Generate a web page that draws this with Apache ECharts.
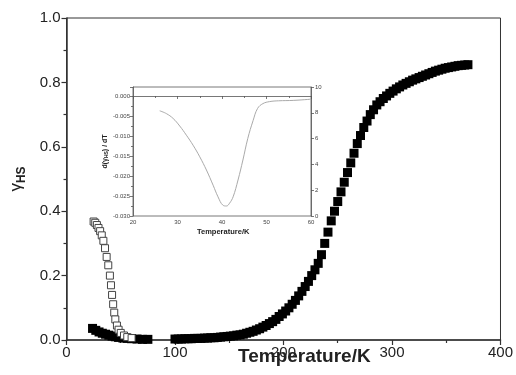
<!DOCTYPE html>
<html>
<head>
<meta charset="utf-8">
<script src="https://cdn.jsdelivr.net/npm/echarts@6/dist/echarts.min.js"></script>
<style>
  html, body { margin: 0; padding: 0; background: #fff; }
  #chart { width: 516px; height: 375px; }
</style>
</head>
<body>
<div id="chart"></div>
<script>
// main plot: filled squares (heating)
const heatT = [24, 27, 30, 33, 36, 39, 42, 45, 48, 52, 56, 60, 65, 70, 75,
  100, 103, 106, 109, 112, 115, 118, 121, 124, 127, 130, 133, 136, 139, 142, 145, 148, 151, 154, 157, 160,
  163, 166, 169, 172, 175, 178, 181, 184, 187, 190, 193, 196, 199, 202, 205, 208, 211, 214, 217, 220,
  223, 226, 229, 232, 235, 238, 241, 244, 247, 250, 253, 256, 259, 262, 265, 268, 271, 274, 277, 280,
  283, 286, 289, 292, 295, 298, 301, 304, 307, 310, 313, 316, 319, 322, 325, 328, 331, 334, 337, 340,
  343, 346, 349, 352, 355, 358, 361, 364, 367, 370];
const heatG = [0.036, 0.030, 0.025, 0.021, 0.018, 0.015, 0.012, 0.010, 0.008, 0.006, 0.005, 0.004, 0.003, 0.002, 0.002,
  0.003, 0.003, 0.003, 0.004, 0.004, 0.004, 0.005, 0.005, 0.005, 0.006, 0.006, 0.007, 0.007, 0.008, 0.009, 0.010, 0.011, 0.012, 0.013, 0.015, 0.016,
  0.018, 0.021, 0.024, 0.027, 0.031, 0.035, 0.040, 0.045, 0.051, 0.057, 0.064, 0.073, 0.081, 0.090, 0.100, 0.111, 0.123, 0.137, 0.151, 0.166,
  0.182, 0.200, 0.218, 0.238, 0.265, 0.300, 0.335, 0.370, 0.400, 0.430, 0.460, 0.490, 0.520, 0.550, 0.580, 0.610, 0.635, 0.660, 0.680, 0.700,
  0.715, 0.730, 0.740, 0.750, 0.758, 0.766, 0.773, 0.780, 0.786, 0.792, 0.797, 0.802, 0.807, 0.811, 0.815, 0.819, 0.823, 0.827, 0.831, 0.835,
  0.838, 0.841, 0.844, 0.846, 0.848, 0.850, 0.852, 0.853, 0.854, 0.855];

// main plot: open squares
const openT = [25, 26.5, 28, 29.5, 31, 32.5, 34, 35.5, 37, 38.5, 40, 41, 42, 43, 44, 45, 46.5, 48, 50, 53, 56, 60];
const openG = [0.368, 0.364, 0.357, 0.348, 0.338, 0.325, 0.308, 0.285, 0.258, 0.232, 0.200, 0.170, 0.140, 0.111,
  0.085, 0.064, 0.045, 0.032, 0.022, 0.014, 0.009, 0.006];

// inset: d(gamma)/dT
const insetT = [26, 27.5, 29, 30.5, 32, 33.5, 35, 36.5, 38, 39.1, 40.2, 41, 41.7, 42.5, 43.6, 44.7, 45.8, 47, 48, 49.2, 50.7, 52.7, 56, 60];
const insetD = [-0.0037, -0.0044, -0.0056, -0.0075, -0.0098, -0.0123, -0.0152, -0.0185, -0.0223, -0.0252, -0.0273, -0.0275,
  -0.0268, -0.0252, -0.0210, -0.0160, -0.0106, -0.0061, -0.0031, -0.0019, -0.0014, -0.0012, -0.0011, -0.0008];

const axisColor = '#333';
const textColor = '#222';
const font = 'Liberation Sans, Arial';

const pairs = (xs, ys) => xs.map((x, i) => [x, ys[i]]);

const chart = echarts.init(document.getElementById('chart'));

const option = {
  animation: false,
  backgroundColor: '#fff',
  grid: [
    { left: 63, top: 18, right: 13, bottom: 35, show: true, borderColor: axisColor, borderWidth: 1 },
    { left: 133, top: 87, width: 178, height: 129, show: true, borderColor: '#555', borderWidth: 0.8, backgroundColor: '#fff' }
  ],
  xAxis: [
    {
      gridIndex: 0, type: 'value', min: 0, max: 400, interval: 100,
      splitLine: { show: false },
      axisLine: { lineStyle: { color: axisColor, width: 1.5 } },
      axisTick: { length: 5, lineStyle: { color: axisColor, width: 1.2 } },
      minorTick: { show: true, splitNumber: 2, length: 3, lineStyle: { color: axisColor, width: 1.2 } },
      axisLabel: { color: textColor, fontSize: 15, fontFamily: font, margin: 5 }
    },
    {
      gridIndex: 1, type: 'value', min: 20, max: 60, interval: 10,
      splitLine: { show: false },
      axisLine: { lineStyle: { color: '#555', width: 0.8 } },
      axisTick: { length: 3, lineStyle: { color: '#555', width: 0.8 } },
      minorTick: { show: true, splitNumber: 2, length: 2, lineStyle: { color: '#555', width: 0.8 } },
      axisLabel: { color: '#444', fontSize: 6, fontFamily: font, margin: 3 }
    }
  ],
  yAxis: [
    {
      gridIndex: 0, type: 'value', min: 0, max: 1, interval: 0.2,
      splitLine: { show: false },
      axisLine: { lineStyle: { color: axisColor, width: 1.5 } },
      axisTick: { length: 5, lineStyle: { color: axisColor, width: 1.2 } },
      minorTick: { show: true, splitNumber: 2, length: 3, lineStyle: { color: axisColor, width: 1.2 } },
      axisLabel: { color: textColor, fontSize: 15, fontFamily: font, margin: 6,
        formatter: v => v.toFixed(1) },
      name: '{g|γ}{s|HS}',
      nameLocation: 'middle',
      nameRotate: 90,
      nameGap: 39,
      nameTextStyle: {
        rich: {
          g: { fontSize: 17, color: textColor, fontFamily: font },
          s: { fontSize: 12, fontWeight: 'bold', color: textColor, fontFamily: font, padding: [10, 0, 0, 0] }
        }
      }
    },
    {
      gridIndex: 1, type: 'value', min: -0.030, max: 0.00225, interval: 0.005,
      splitLine: { show: false },
      axisLine: { lineStyle: { color: '#555', width: 0.8 } },
      axisTick: { length: 3, lineStyle: { color: '#555', width: 0.8 } },
      minorTick: { show: true, splitNumber: 2, length: 2, lineStyle: { color: '#555', width: 0.8 } },
      axisLabel: { color: '#444', fontSize: 6, fontFamily: font, margin: 3,
        formatter: v => {
          if (v > 0.0001) return '';
          if (Math.abs(v) < 1e-9) return '0.000';
          return v.toFixed(3);
        } },
      name: '{a|d(γ}{s|HS}{a|) / dT}',
      nameLocation: 'middle',
      nameRotate: 90,
      nameGap: 24,
      nameTextStyle: {
        rich: {
          a: { fontSize: 7, fontWeight: 'bold', color: textColor, fontFamily: font },
          s: { fontSize: 5, fontWeight: 'bold', color: textColor, fontFamily: font, padding: [3, 0, 0, 0] }
        }
      }
    },
    {
      gridIndex: 1, type: 'value', min: 0, max: 10, interval: 2, position: 'right',
      splitLine: { show: false },
      axisLine: { show: true, lineStyle: { color: '#555', width: 0.8 } },
      axisTick: { length: 3, lineStyle: { color: '#555', width: 0.8 } },
      axisLabel: { color: '#444', fontSize: 6, fontFamily: font, margin: 4 }
    }
  ],
  graphic: [
    // 主图 x 轴标题
    {
      type: 'text', left: 238, top: 347,
      style: { text: 'Temperature/K', fill: textColor, font: 'bold 19px "Liberation Sans", Arial' }
    },
    // 插图 x 轴标题
    {
      type: 'text', left: 197, top: 228,
      style: { text: 'Temperature/K', fill: textColor, font: 'bold 7.5px "Liberation Sans", Arial' }
    }
  ],
  series: [
    {
      name: 'heating',
      type: 'scatter',
      xAxisIndex: 0, yAxisIndex: 0,
      symbol: 'rect',
      symbolSize: 9,
      itemStyle: { color: '#000', opacity: 1 },
      data: pairs(heatT, heatG)
    },
    {
      name: 'open',
      type: 'scatter',
      xAxisIndex: 0, yAxisIndex: 0,
      symbol: 'rect',
      symbolSize: 7,
      itemStyle: { color: '#fff', borderColor: '#444', borderWidth: 1, opacity: 1 },
      data: pairs(openT, openG)
    },
    {
      name: 'derivative',
      type: 'line',
      xAxisIndex: 1, yAxisIndex: 1,
      smooth: 0.4,
      showSymbol: false,
      lineStyle: { color: '#aaa', width: 1 },
      data: pairs(insetT, insetD)
    }
  ]
};

chart.setOption(option);
</script>
</body>
</html>
